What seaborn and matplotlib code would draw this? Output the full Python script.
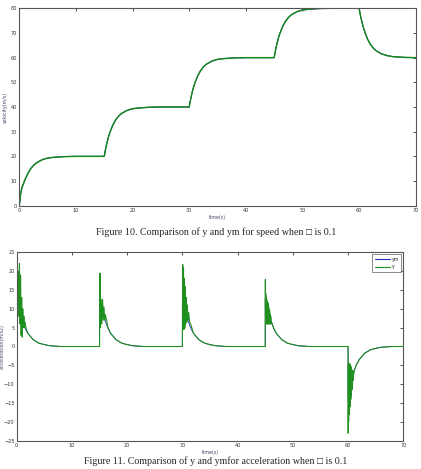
import matplotlib
matplotlib.use("Agg")
import matplotlib.pyplot as plt
import seaborn as sns
import pandas as pd

sns.set_style("white")
plt.rcParams['font.family'] = ['DejaVu Sans']

# ---------------- Figure 10 data: velocity (m/s) ----------------
t_vel = [0, 0.25, 0.5, 0.75, 1, 1.5, 2, 2.5, 3, 4, 5, 6, 8, 10,
         15, 15.25, 15.5, 15.75, 16, 16.5, 17, 17.5, 18, 19, 20, 21, 23, 25,
         30, 30.25, 30.5, 30.75, 31, 31.5, 32, 32.5, 33, 34, 35, 36, 38, 40,
         45, 45.25, 45.5, 45.75, 46, 46.5, 47, 47.5, 48, 49, 50, 51, 53, 55,
         60, 60.25, 60.5, 60.75, 61, 61.5, 62, 62.5, 63, 64, 65, 66, 68, 70]
vel_ym = [0, 5, 7.5, 9, 10.5, 13, 15, 16.3, 17.3, 18.6, 19.3, 19.6, 19.9, 20,
          20, 23.1, 25.7, 27.9, 29.7, 32.6, 34.7, 36.2, 37.3, 38.6, 39.3, 39.6, 39.9, 40,
          40, 43.1, 45.7, 47.9, 49.7, 52.6, 54.7, 56.2, 57.3, 58.6, 59.3, 59.6, 59.9, 60,
          60, 63.1, 65.7, 67.9, 69.7, 72.6, 74.7, 76.2, 77.3, 78.6, 79.3, 79.6, 79.9, 80,
          80, 77, 74.5, 72.3, 70.5, 67.5, 65.4, 63.9, 62.8, 61.5, 60.8, 60.4, 60.1, 60]
vel_y = [0, 5.2, 7.6, 9, 10.5, 13, 15, 16.3, 17.3, 18.6, 19.3, 19.6, 19.9, 20,
         20, 23.1, 25.7, 27.9, 29.7, 32.6, 34.7, 36.2, 37.3, 38.6, 39.3, 39.6, 39.9, 40,
         40, 43.1, 45.7, 47.9, 49.7, 52.6, 54.7, 56.2, 57.3, 58.6, 59.3, 59.6, 59.9, 60,
         60, 63.1, 65.7, 67.9, 69.7, 72.6, 74.7, 76.2, 77.3, 78.6, 79.3, 79.6, 79.9, 80,
         80, 77, 74.5, 72.3, 70.5, 67.5, 65.4, 63.9, 62.8, 61.5, 60.8, 60.4, 60.1, 60]

# ---------------- Figure 11 data: acceleration (m/s2) ----------------
t_acc_ym = [0, 0, 0.5, 1, 1.5, 2, 3, 4, 5, 6, 8,
            15, 15, 15.5, 16, 16.5, 17, 18, 19, 20, 21, 23,
            30, 30, 30.5, 31, 31.5, 32, 33, 34, 35, 36, 38,
            45, 45, 45.5, 46, 46.5, 47, 48, 49, 50, 51, 53,
            60, 60, 60.5, 61, 61.5, 62, 63, 64, 65, 66, 68, 70]
acc_ym = [0, 12.8, 9.5, 6.9, 4.9, 3.5, 1.8, 0.9, 0.5, 0.2, 0,
          0, 12.8, 9.5, 6.9, 4.9, 3.5, 1.8, 0.9, 0.5, 0.2, 0,
          0, 12.6, 9.5, 6.9, 4.9, 3.5, 1.8, 0.9, 0.5, 0.2, 0,
          0, 12.6, 9.5, 6.9, 4.9, 3.5, 1.8, 0.9, 0.5, 0.2, 0,
          0, -13, -9.5, -6.9, -4.9, -3.5, -1.8, -0.9, -0.5, -0.2, 0, 0]

t_acc_y = [0, 0.05, 0.15, 0.3, 0.4, 0.5, 0.6, 0.7, 0.8, 0.9, 1.0, 1.1, 1.2, 1.3, 1.4, 1.5, 1.7,
           2, 3, 4, 5, 6, 8,
           15, 15.08, 15.18, 15.3, 15.42, 15.55, 15.68, 15.8, 15.92, 16.05, 16.2, 16.5,
           17, 18, 19, 20, 21, 23,
           30, 30.05, 30.12, 30.2, 30.28, 30.36, 30.44, 30.52, 30.6, 30.7, 30.8, 30.9, 31,
           31.15, 31.3, 31.5, 32, 33, 34, 35, 36, 38,
           45, 45.02, 45.06, 45.1, 45.14, 45.18, 45.22, 45.26, 45.3, 45.34, 45.38, 45.42,
           45.46, 45.5, 45.55, 45.6, 45.65, 45.7, 45.75, 45.8, 45.85, 45.9, 45.95, 46,
           46.1, 46.2, 46.5, 47, 48, 49, 50, 51, 53,
           60, 60.02, 60.06, 60.1, 60.14, 60.18, 60.22, 60.26, 60.3, 60.34, 60.38, 60.42,
           60.46, 60.5, 60.55, 60.6, 60.65, 60.7, 60.75, 60.8, 60.85, 60.9, 60.95, 61,
           61.1, 61.2, 61.5, 62, 63, 64, 65, 66, 68, 70]
acc_y = [0, 2, 10, 20, 8, 22, 6, 19, 3, 13, 2.5, 10, 5, 8, 5, 6.5, 4.8,
         3.5, 1.8, 0.9, 0.5, 0.2, 0,
         0, 19.5, 5, 12.5, 6, 12.5, 7, 10.5, 7, 8.5, 7.5, 5.2,
         3.5, 1.8, 0.9, 0.5, 0.2, 0,
         0, 21.8, 5, 21, 4.5, 18, 5, 16, 6, 13, 6.5, 11, 7,
         9, 6.5, 6, 3.5, 1.8, 0.9, 0.5, 0.2, 0,
         0, 17.8, 7, 14, 6, 13, 6.5, 12.5, 6, 12, 6, 11.7,
         6, 11.5, 6, 11, 6, 10, 6, 9.5, 6, 8.5, 6, 8,
         6, 6.3, 5.0, 3.5, 1.8, 0.9, 0.5, 0.2, 0,
         0, -23, -5, -20, -4.5, -18, -4.5, -17, -4.5, -16, -5, -15,
         -5, -14, -5.5, -13, -6, -11.5, -6.5, -10, -7, -9, -6.5, -7.5,
         -6.5, -6, -4.9, -3.5, -1.8, -0.9, -0.5, -0.2, 0, 0]

vel_xticks = [0, 10, 20, 30, 40, 50, 60, 70]
vel_yticks = [0, 10, 20, 30, 40, 50, 60, 70, 80]
acc_xticks = [0, 10, 20, 30, 40, 50, 60, 70]
acc_yticks = [-25, -20, -15, -10, -5, 0, 5, 10, 15, 20, 25]

caption10 = "Figure 10. Comparison of y and ym for speed when \u25a1 is 0.1"
caption11 = "Figure 11. Comparison of y and ymfor acceleration when \u25a1 is 0.1"

BLUE = "#2a2ab8"
GREEN = "#138a13"
GREEN2 = "#1f901f"
TICK_COLOR = "#333344"

fig = plt.figure(figsize=(4.21, 4.69), dpi=100)
ax1 = fig.add_axes([19.3 / 421, 1 - 205.7 / 469, (415.7 - 19.3) / 421, (205.7 - 8.3) / 469])
ax2 = fig.add_axes([16.7 / 421, 1 - 440.7 / 469, (403.3 - 16.7) / 421, (440.7 - 252.3) / 469])


def style(ax, xticks, yticks, xlim, ylim, ylabel, ylabel_x):
    ax.set_xlim(*xlim)
    ax.set_ylim(*ylim)
    ax.set_xticks(xticks)
    ax.set_yticks(yticks)
    ax.tick_params(direction="in", length=2.5, width=0.6, top=True, right=True,
                   labelsize=3.6, colors=TICK_COLOR, pad=1.5)
    for s in ax.spines.values():
        s.set_color("#555555")
        s.set_linewidth(0.8)
    ax.set_xlabel("time(s)", fontsize=3.4, color="#444466", labelpad=1.5)
    ax.set_ylabel(ylabel, fontsize=3.4, color="#444466")
    ax.yaxis.set_label_coords(ylabel_x, 0.5)
    ax.set_facecolor("white")


df_vel = pd.DataFrame({"t": t_vel, "ym": vel_ym, "y": vel_y})
sns.lineplot(data=df_vel, x="t", y="ym", estimator=None, sort=False, ax=ax1,
             color=BLUE, linewidth=0.8)
sns.lineplot(data=df_vel, x="t", y="y", estimator=None, sort=False, ax=ax1,
             color=GREEN, linewidth=1.0)
style(ax1, vel_xticks, vel_yticks, (0, 70), (0, 80), "velocity(m/s)", -0.03)

sns.lineplot(x=t_acc_ym, y=acc_ym, estimator=None, sort=False, ax=ax2,
             color=BLUE, linewidth=0.6, label="ym")
sns.lineplot(x=t_acc_y, y=acc_y, estimator=None, sort=False, ax=ax2,
             color=GREEN2, linewidth=0.8, label="y")
style(ax2, acc_xticks, acc_yticks, (0, 70), (-25, 25), "acceleration(m/s2)", -0.031)
leg = ax2.legend(loc="upper right", fontsize=3.4, frameon=True, fancybox=False,
                 handlelength=3.2, borderpad=0.5, labelspacing=0.6,
                 borderaxespad=0.4, handletextpad=0.4)
leg.get_frame().set_edgecolor("#555555")
leg.get_frame().set_linewidth(0.6)
for line in leg.get_lines():
    line.set_linewidth(0.8)

fig.text(216 / 421, 1 - 232.5 / 469, caption10, ha="center", va="center",
         fontsize=7.2, family=["Liberation Serif", "DejaVu Sans"])
fig.text(216 / 421, 1 - 461.5 / 469, caption11, ha="center", va="center",
         fontsize=7.2, family=["Liberation Serif", "DejaVu Sans"])

fig.savefig("out.png", dpi=100, facecolor="white")
